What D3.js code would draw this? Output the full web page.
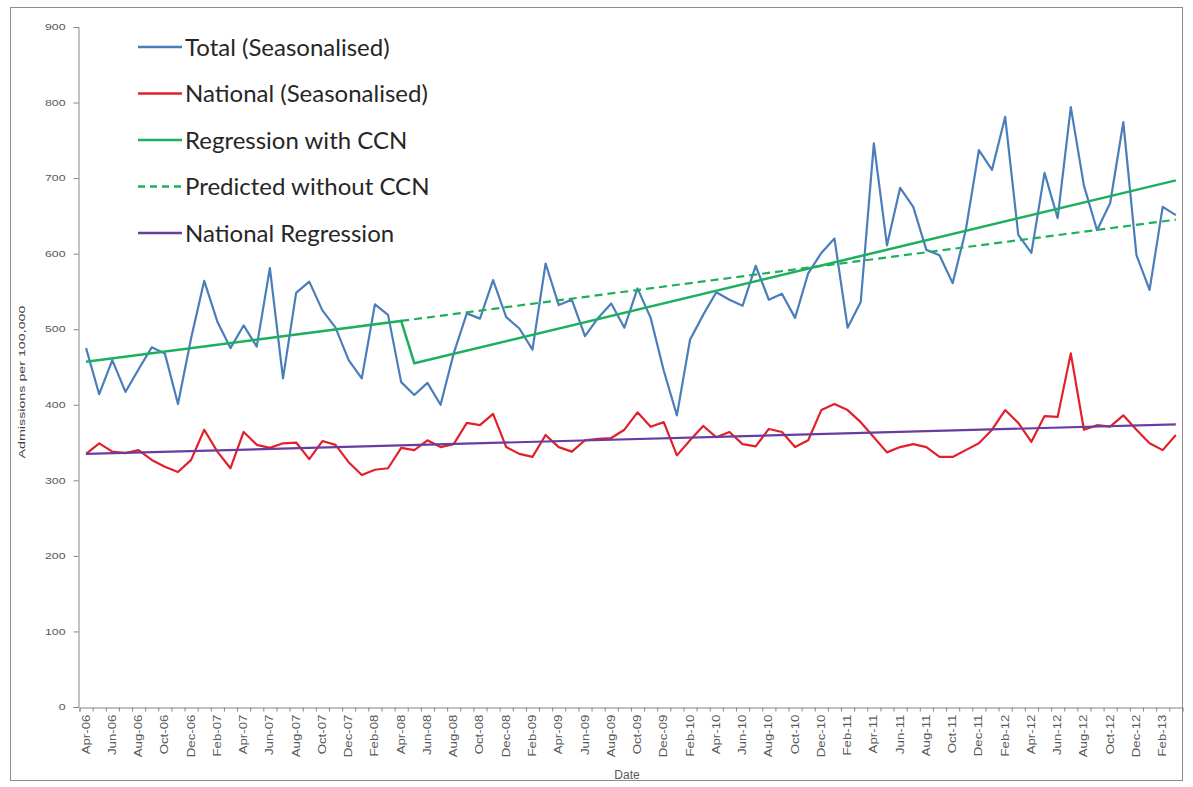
<!DOCTYPE html>
<html>
<head>
<meta charset="utf-8">
<script src="https://cdn.jsdelivr.net/npm/d3@7"></script>
<style>
  html, body { margin: 0; padding: 0; background: #fff; }
  svg { display: block; }
</style>
</head>
<body>
<svg id="chart" width="1193" height="787"></svg>
<script>
// ---------------- DATA ----------------
const months = [
  "Apr-06","May-06","Jun-06","Jul-06","Aug-06","Sep-06","Oct-06","Nov-06","Dec-06","Jan-07","Feb-07","Mar-07",
  "Apr-07","May-07","Jun-07","Jul-07","Aug-07","Sep-07","Oct-07","Nov-07","Dec-07","Jan-08","Feb-08","Mar-08",
  "Apr-08","May-08","Jun-08","Jul-08","Aug-08","Sep-08","Oct-08","Nov-08","Dec-08","Jan-09","Feb-09","Mar-09",
  "Apr-09","May-09","Jun-09","Jul-09","Aug-09","Sep-09","Oct-09","Nov-09","Dec-09","Jan-10","Feb-10","Mar-10",
  "Apr-10","May-10","Jun-10","Jul-10","Aug-10","Sep-10","Oct-10","Nov-10","Dec-10","Jan-11","Feb-11","Mar-11",
  "Apr-11","May-11","Jun-11","Jul-11","Aug-11","Sep-11","Oct-11","Nov-11","Dec-11","Jan-12","Feb-12","Mar-12",
  "Apr-12","May-12","Jun-12","Jul-12","Aug-12","Sep-12","Oct-12","Nov-12","Dec-12","Jan-13","Feb-13","Mar-13"
];

const totalSeasonalised = [
  475,414,459,417,447,476,468,401,488,564,
  510,475,505,477,581,435,548,563,525,502,
  459,435,533,519,430,413,429,400,468,521,
  514,565,516,501,473,587,532,539,491,515,
  534,502,554,515,445,386,486,519,549,539,
  531,584,539,547,515,574,601,620,502,536,
  746,611,687,662,605,598,561,631,737,711,
  781,625,601,707,647,794,690,631,667,774,
  598,552,662,651
];

const nationalSeasonalised = [
  335,349,338,336,340,327,318,311,327,367,
  338,316,364,347,343,349,350,328,352,347,
  324,307,314,316,343,340,353,344,348,376,
  373,388,344,335,331,360,344,338,353,355,
  356,367,390,371,377,333,353,372,357,364,
  348,345,368,364,344,353,393,401,393,377,
  357,337,344,348,344,331,331,340,349,367,
  393,376,351,385,384,468,367,373,371,386,
  367,349,340,360
];

// regression lines: [month, value] vertices
const regressionWithCCN = [["Apr-06",457],["Apr-08",511],["May-08",455],["Mar-13",697]];
const predictedWithoutCCN = [["Apr-08",511],["Mar-13",645]];
const nationalRegression = [["Apr-06",335],["Mar-13",374]];

const yTicks = [0,100,200,300,400,500,600,700,800,900];

const legendItems = [
  {name:"Total (Seasonalised)", color:"#4A7EBB", dash:null},
  {name:"National (Seasonalised)", color:"#E3202A", dash:null},
  {name:"Regression with CCN", color:"#1DAF5C", dash:null},
  {name:"Predicted without CCN", color:"#1DAF5C", dash:"7,5"},
  {name:"National Regression", color:"#6A3C9E", dash:null}
];

// ---------------- LAYOUT ----------------
const svg = d3.select("#chart");
const plot = {left: 79.5, right: 1182.4, top: 27, bottom: 707};
const axisColor = "#868686";
const textColor = "#595959";
const smallFont = "'Liberation Sans', Arial, sans-serif";

// outer border
svg.append("rect")
  .attr("x", 10.5).attr("y", 7.5)
  .attr("width", 1172).attr("height", 773)
  .attr("fill", "#fff").attr("stroke", "#8c8c8c").attr("stroke-width", 1);

const x = d3.scaleBand().domain(months).range([plot.left, plot.right]).padding(0);
const xi = d3.scaleLinear().domain([0, months.length]).range([plot.left, plot.right]);
const cx = m => x(m) + x.bandwidth() / 2;
const y = d3.scaleLinear().domain([0, 900]).range([plot.bottom, plot.top]);

// Y axis
const yStretch = 1.45;
const yAxis = svg.append("g")
  .attr("transform", `translate(${78.5},0)`)
  .call(d3.axisLeft(y).tickValues(yTicks).tickSize(5).tickPadding(5));
yAxis.select(".domain").attr("stroke", axisColor);
yAxis.selectAll(".tick line").attr("stroke", axisColor);
yAxis.selectAll(".tick text")
  .attr("fill", textColor)
  .style("font-family", smallFont)
  .style("font-size", "8.5px")
  .attr("x", -13 / yStretch)
  .attr("transform", `scale(${yStretch},1)`);

// X axis – tick marks at category boundaries
const xTickAxis = svg.append("g")
  .attr("transform", `translate(0,${plot.bottom + 0.5})`)
  .call(d3.axisBottom(xi).tickValues(d3.range(0, months.length + 1)).tickFormat("").tickSize(4));
xTickAxis.select(".domain").attr("stroke", axisColor);
xTickAxis.selectAll(".tick line").attr("stroke", axisColor);

// X axis labels – every second month, rotated
const xStretch = 1.33;
const xLabelAxis = svg.append("g")
  .attr("transform", `translate(0,${plot.bottom + 0.5})`)
  .call(d3.axisBottom(x).tickValues(months.filter((m, i) => i % 2 === 0)).tickSize(0));
xLabelAxis.select(".domain").remove();
xLabelAxis.selectAll(".tick text")
  .attr("fill", textColor)
  .style("font-family", smallFont)
  .style("font-size", "10px")
  .attr("transform", `rotate(-90) scale(${xStretch},1)`)
  .attr("text-anchor", "end")
  .attr("x", -7 / xStretch)
  .attr("y", 0)
  .attr("dy", "0.35em");

// axis titles
svg.append("text")
  .attr("x", 627).attr("y", 779)
  .attr("text-anchor", "middle")
  .attr("fill", textColor)
  .style("font-family", smallFont)
  .style("font-size", "12px")
  .text("Date");

svg.append("text")
  .attr("transform", "translate(25,382) rotate(-90) scale(1.5,1)")
  .attr("text-anchor", "middle")
  .attr("fill", "#404040")
  .style("font-family", smallFont)
  .style("font-size", "9.5px")
  .text("Admissions per 100,000");

// ---------------- SERIES ----------------
const lineIdx = d3.line().x((d, i) => cx(months[i])).y(d => y(d));
const linePairs = d3.line().x(d => cx(d[0])).y(d => y(d[1]));

svg.append("path").datum(totalSeasonalised)
  .attr("d", lineIdx).attr("fill", "none")
  .attr("stroke", legendItems[0].color).attr("stroke-width", 2.2).attr("stroke-linejoin", "round");

svg.append("path").datum(nationalSeasonalised)
  .attr("d", lineIdx).attr("fill", "none")
  .attr("stroke", legendItems[1].color).attr("stroke-width", 2.2).attr("stroke-linejoin", "round");

svg.append("path").datum(regressionWithCCN)
  .attr("d", linePairs).attr("fill", "none")
  .attr("stroke", legendItems[2].color).attr("stroke-width", 2.5);

svg.append("path").datum(predictedWithoutCCN)
  .attr("d", linePairs).attr("fill", "none")
  .attr("stroke", legendItems[3].color).attr("stroke-width", 2.2).attr("stroke-dasharray", "8,5");

svg.append("path").datum(nationalRegression)
  .attr("d", linePairs).attr("fill", "none")
  .attr("stroke", legendItems[4].color).attr("stroke-width", 2.2);

// ---------------- LEGEND ----------------
const legend = svg.append("g");
legendItems.forEach((d, i) => {
  const ly = 47 + i * 46.5;
  legend.append("line")
    .attr("x1", 138).attr("x2", 182).attr("y1", ly).attr("y2", ly)
    .attr("stroke", d.color).attr("stroke-width", 2.5)
    .attr("stroke-dasharray", d.dash);
  legend.append("text")
    .attr("x", 185).attr("y", ly).attr("dy", "0.36em")
    .attr("fill", "#262626")
    .style("font-family", "Lato, 'Open Sans', sans-serif")
    .style("font-size", "24px")
    .text(d.name);
});
</script>
</body>
</html>
